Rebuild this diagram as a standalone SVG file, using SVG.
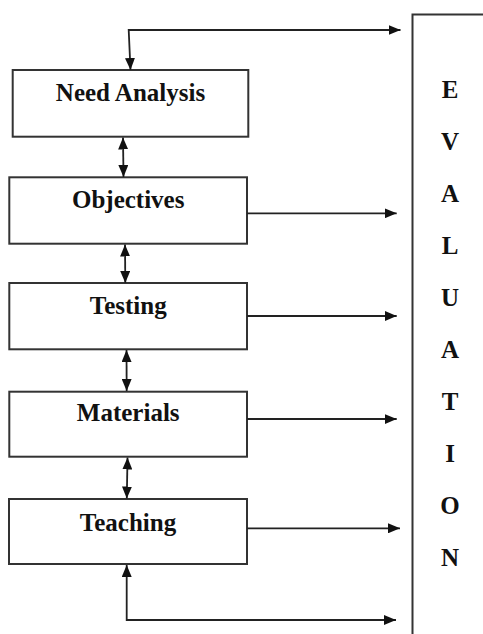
<svg xmlns="http://www.w3.org/2000/svg" width="483" height="634" viewBox="0 0 483 634">
<defs>
<marker id="ah" viewBox="0 0 12 10" refX="12" refY="5" markerWidth="12" markerHeight="10" markerUnits="userSpaceOnUse" orient="auto-start-reverse">
<path d="M0,0 L12,5 L0,10 z" fill="#111"/>
</marker>
<style>
.box{fill:#fff;stroke:#333;stroke-width:2}
.lbl{font-family:"Liberation Serif","Times New Roman",serif;font-weight:bold;font-size:25px;fill:#111;text-anchor:middle}
.ln{fill:none;stroke:#222;stroke-width:1.8}
.ar{marker-end:url(#ah)}
.dbl{marker-start:url(#ah);marker-end:url(#ah)}
</style>
</defs>
<rect width="483" height="634" fill="#fff"/>
<g id="evaluation">
<path d="M412.5,634 L412.5,14.5 L483,14.5" fill="none" stroke="#333" stroke-width="2"/>
<text class="lbl" x="450" y="98">E</text>
<text class="lbl" x="450" y="150">V</text>
<text class="lbl" x="450" y="202">A</text>
<text class="lbl" x="450" y="254">L</text>
<text class="lbl" x="450" y="306">U</text>
<text class="lbl" x="450" y="358">A</text>
<text class="lbl" x="450" y="410">T</text>
<text class="lbl" x="450" y="462">I</text>
<text class="lbl" x="450" y="514">O</text>
<text class="lbl" x="450" y="566">N</text>
</g>
<g id="need-analysis">
<rect class="box" x="12.7" y="70" width="235.6" height="66.7"/>
<text class="lbl" x="130.5" y="100.5">Need Analysis</text>
</g>
<g id="objectives">
<rect class="box" x="9.3" y="177.3" width="237.7" height="66.4"/>
<text class="lbl" x="128.2" y="208.3">Objectives</text>
</g>
<g id="testing">
<rect class="box" x="9.3" y="283" width="237.7" height="66.3"/>
<text class="lbl" x="128.2" y="314">Testing</text>
</g>
<g id="materials">
<rect class="box" x="9.3" y="391.7" width="237.7" height="65"/>
<text class="lbl" x="128.2" y="420.7">Materials</text>
</g>
<g id="teaching">
<rect class="box" x="9" y="499" width="238" height="65"/>
<text class="lbl" x="128" y="530.7">Teaching</text>
</g>
<g id="connectors">
<path class="ln dbl" d="M130.5,70 L128.7,30 L400.5,30"/>
<path class="ln dbl" d="M123,137.5 L123.5,177"/>
<path class="ln dbl" d="M125,244.5 L125.3,283"/>
<path class="ln dbl" d="M126.5,350 L126.7,391"/>
<path class="ln dbl" d="M127.5,457.5 L126.8,498.5"/>
<path class="ln dbl" d="M126.7,565 L126.7,620 L396,620"/>
<path class="ln ar" d="M247,213.3 L396.7,213.3"/>
<path class="ln ar" d="M247,316 L396.7,316"/>
<path class="ln ar" d="M247,419 L396.7,419"/>
<path class="ln ar" d="M247,528.3 L400,528.3"/>
</g>
</svg>
